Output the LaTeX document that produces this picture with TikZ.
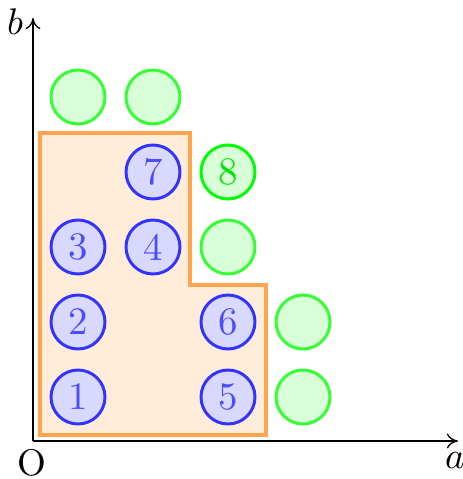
\documentclass[tikz,border=0pt]{standalone}
\usetikzlibrary{arrows.meta}
\begin{document}
\begin{tikzpicture}[x=0.27pt,y=-0.27pt,
  bluec/.style={circle,draw=blue!80,fill=blue!15,text=blue!70,line width=0.8pt,minimum size=54*0.27pt,inner sep=0pt,font=\fontsize{10.5}{12}\selectfont},
  greenc/.style={circle,draw=green!80,fill=green!15,line width=0.8pt,minimum size=54*0.27pt,inner sep=0pt},
  greenb/.style={circle,draw=green,fill=green!15,text=green!90!black,line width=0.8pt,minimum size=54*0.27pt,inner sep=0pt,font=\fontsize{10.5}{12}\selectfont},
  region/.style={draw=orange!70,fill=orange!15,line width=1.1pt,line join=miter},
  axis/.style={line width=0.35pt,-{To[length=3pt,width=4pt]}}]
\useasboundingbox (0,0) rectangle (463,479);
\coordinate (O) at (33,441);
\coordinate (xend) at (458,441);
\coordinate (yend) at (33,18);
\draw[region] (40,435) -- (266,435) -- (266,285) -- (190,285) -- (190,133) -- (40,133) -- cycle;
\draw[axis] (O) -- (xend);
\draw[axis] (O) -- (yend);
\node (olab) at (32,463) {O};
\node (alab) at (455,461) {$a$};
\node (blab) at (15,22) {$b$};
\node[bluec] (n1) at (78,397) {1};
\node[bluec] (n2) at (78,322) {2};
\node[bluec] (n3) at (78,247) {3};
\node[bluec] (n4) at (153,247) {4};
\node[bluec] (n5) at (228,397) {5};
\node[bluec] (n6) at (228,322) {6};
\node[bluec] (n7) at (153,172) {7};
\node[greenb] (n8) at (228,172) {8};
\node[greenc] (g1) at (303,397) {};
\node[greenc] (g2) at (303,322) {};
\node[greenc] (g3) at (228,247) {};
\node[greenc] (g4) at (78,97) {};
\node[greenc] (g5) at (153,97) {};
\end{tikzpicture}
\end{document}
